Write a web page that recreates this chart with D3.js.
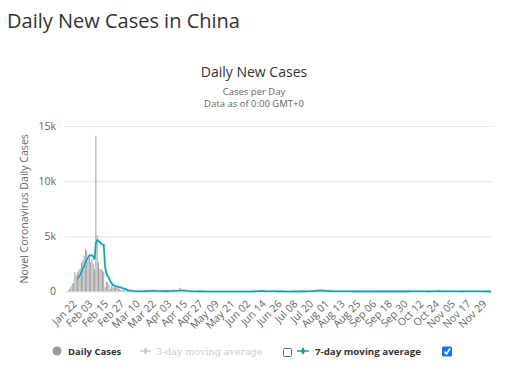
<!DOCTYPE html>
<html lang="en">
<head>
<meta charset="utf-8">
<title>Daily New Cases in China</title>
<script src="https://cdn.jsdelivr.net/npm/d3@7"></script>
<style>
  body { margin: 0; background: #fff; }
  svg { font-family: "Open Sans", sans-serif; }
</style>
</head>
<body>
<script>

// first category, one point per day after it
var firstDay = new Date(2020, 0, 22);

// daily new cases, one small array per month
var casesJan = [0, 95, 259, 444, 688, 769, 1771, 1459, 1737, 1981];
var casesFeb = [2099, 2589, 2825, 3233, 3886, 3694, 3143, 3385, 2652, 2973, 2467, 2015, 14108, 5090, 2641, 2008, 2048, 1888, 1749, 391, 889, 823, 648, 214, 508, 406, 433, 327, 427];
var casesMar = [573, 202, 125, 119, 139, 143, 99, 44, 40, 19, 24, 15, 8, 11, 20, 16, 21, 13, 34, 39, 41, 46, 39, 78, 47, 67, 55, 54, 45, 31, 48];
var casesApr = [36, 35, 31, 19, 30, 39, 32, 62, 63, 42, 46, 99, 108, 89, 46, 26, 352, 27, 16, 12, 11, 30, 10, 12, 11, 12, 3, 22, 22, 4];
var casesMay = [12, 1, 2, 3, 1, 2, 2, 1, 1, 17, 1, 7, 3, 7, 4, 5, 7, 6, 2, 5, 3, 2, 0, 3, 7, 11, 1, 2, 4, 2, 4];
var casesJun = [10, 5, 7, 5, 5, 2, 4, 8, 3, 11, 11, 8, 57, 49, 40, 44, 28, 31, 32, 26, 29, 22, 22, 19, 19, 11, 17, 12, 19, 3];
var casesJul = [3, 5, 3, 7, 8, 7, 8, 5, 2, 7, 6, 8, 9, 4, 6, 10, 11, 22, 16, 11, 14, 22, 22, 21, 46, 61, 68, 64, 101, 105, 127];
var casesAug = [45, 49, 43, 36, 27, 37, 32, 23, 36, 44, 19, 22, 25, 19, 22, 22, 16, 16, 17, 22, 22, 20, 16, 12, 15, 14, 9, 9, 9, 21, 10];
var casesSep = [8, 5, 11, 10, 10, 10, 10, 6, 10, 7, 11, 10, 8, 10, 7, 7, 32, 14, 10, 15, 12, 6, 11, 10, 8, 9, 12, 21, 9, 12];
var casesOct = [20, 11, 12, 12, 14, 22, 18, 11, 13, 21, 12, 14, 28, 13, 13, 24, 18, 13, 13, 14, 15, 12, 19, 8, 20, 42, 24, 23, 49, 29, 25];
var casesNov = [24, 10, 17, 14, 18, 12, 27, 16, 19, 17, 25, 17, 10, 16, 11, 11, 15, 15, 19, 26, 21, 16, 21, 13, 21, 22, 22, 20, 20, 15];
var casesDec = [17, 12, 13, 11, 16, 20, 13, 10, 17, 11];

// 7-day moving average
var avgJan = [null, null, null, null, null, null, null, null, 1150, 1320];
var avgFeb = [1501, 1772, 2066, 2275, 2621, 2901, 3067, 3251, 3260, 3281, 3171, 2904, 4392, 4670, 4564, 4472, 4340, 4257, 4219, 2259, 1659, 1399, 1205, 943, 746, 554, 560, 480, 423];
var avgMar = [413, 411, 356, 315, 273, 247, 200, 124, 101, 86, 69, 50, 37, 24, 20, 16, 15, 16, 19, 26, 30, 35, 38, 47, 49, 54, 55, 55, 55, 50, 49];
var avgApr = [44, 42, 40, 34, 33, 33, 32, 36, 40, 41, 45, 55, 66, 73, 71, 65, 109, 105, 90, 80, 75, 69, 66, 20, 20, 20, 14, 16, 16, 13];
var avgMay = [14, 11, 9, 9, 6, 6, 3, 2, 2, 4, 4, 4, 4, 5, 6, 6, 5, 5, 5, 5, 5, 4, 4, 3, 4, 4, 4, 4, 4, 4, 4];
var avgJun = [5, 5, 6, 6, 5, 5, 5, 5, 5, 5, 6, 7, 14, 20, 25, 31, 38, 42, 38, 36, 31, 29, 28, 26, 25, 23, 20, 18, 17, 15];
var avgJul = [13, 11, 10, 8, 7, 5, 6, 6, 6, 6, 6, 6, 7, 7, 6, 7, 8, 10, 11, 12, 13, 15, 17, 18, 22, 29, 36, 41, 55, 67, 82];
var avgAug = [82, 80, 78, 75, 69, 57, 40, 35, 34, 33, 31, 28, 29, 27, 24, 22, 20, 20, 19, 19, 19, 19, 18, 17, 16, 16, 15, 13, 12, 13, 12];
var avgSep = [11, 11, 11, 11, 10, 9, 9, 9, 9, 9, 9, 9, 9, 9, 9, 9, 12, 12, 13, 13, 14, 14, 11, 11, 11, 10, 10, 11, 12, 11];
var avgOct = [13, 13, 14, 14, 14, 15, 16, 14, 15, 16, 16, 16, 17, 16, 16, 18, 18, 17, 16, 16, 16, 15, 15, 13, 14, 18, 19, 21, 26, 29, 30];
var avgNov = [31, 29, 24, 23, 19, 15, 17, 16, 17, 17, 19, 18, 18, 17, 16, 15, 15, 15, 15, 16, 18, 19, 19, 19, 19, 20, 21, 21, 20, 19];
var avgDec = [18, 17, 16, 15, 15, 15, 14, 14, 14, 14];

var yTickValues = [0, 5000, 10000, 15000];
var xLabelEvery = 12;

var daily = [].concat(casesJan, casesFeb, casesMar, casesApr, casesMay, casesJun,
                      casesJul, casesAug, casesSep, casesOct, casesNov, casesDec);
var avg7 = [].concat(avgJan, avgFeb, avgMar, avgApr, avgMay, avgJun,
                     avgJul, avgAug, avgSep, avgOct, avgNov, avgDec);

var fmtDay = d3.timeFormat("%b %d");
var categories = daily.map(function(d, i) {
  return fmtDay(d3.timeDay.offset(firstDay, i));
});

var width = 505, height = 379;
var plotLeft = 65, plotRight = 492, plotTop = 126, plotBottom = 291.5;

var svg = d3.select("body").append("svg")
  .attr("width", width)
  .attr("height", height);

// headings
svg.append("text")
  .attr("x", 7).attr("y", 28)
  .attr("font-size", 20).attr("fill", "#333")
  .text("Daily New Cases in China");

svg.append("text")
  .attr("x", 254).attr("y", 76.5)
  .attr("text-anchor", "middle")
  .attr("font-size", 14).attr("fill", "#333")
  .text("Daily New Cases");

svg.append("text")
  .attr("x", 254).attr("y", 95)
  .attr("text-anchor", "middle")
  .attr("font-size", 9.5).attr("fill", "#666")
  .text("Cases per Day");

svg.append("text")
  .attr("x", 254).attr("y", 106.5)
  .attr("text-anchor", "middle")
  .attr("font-size", 9.5).attr("fill", "#666")
  .text("Data as of 0:00 GMT+0");

var x = d3.scaleLinear().domain([0, daily.length - 1]).range([67, 491]);
var y = d3.scaleLinear().domain([0, 15000]).range([plotBottom, plotTop]);

// grid and y labels
var yAxis = svg.append("g")
  .attr("transform", "translate(" + plotLeft + ",0)")
  .call(d3.axisLeft(y)
    .tickValues(yTickValues)
    .tickSize(-(plotRight - plotLeft))
    .tickPadding(9)
    .tickFormat(function(d) { return d === 0 ? "0" : (d / 1000) + "k"; }));
yAxis.select(".domain").remove();
yAxis.selectAll(".tick line").attr("stroke", "#e6e6e6");
yAxis.selectAll(".tick text")
  .attr("fill", "#666")
  .attr("font-size", 10.5)
  .attr("font-family", "Open Sans, sans-serif");

svg.append("text")
  .attr("transform", "translate(27.5," + ((plotTop + plotBottom) / 2) + ") rotate(-90)")
  .attr("text-anchor", "middle")
  .attr("font-size", 10.6).attr("fill", "#666")
  .text("Novel Coronavirus Daily Cases");

// x axis labels
var xAxis = svg.append("g")
  .attr("transform", "translate(0," + plotBottom + ")")
  .call(d3.axisBottom(x)
    .tickValues(d3.range(0, daily.length, xLabelEvery))
    .tickSize(0)
    .tickFormat(function(i) { return categories[i]; }));
xAxis.select(".domain").remove();
xAxis.selectAll(".tick text")
  .attr("fill", "#666")
  .attr("font-size", 10.5)
  .attr("font-family", "Open Sans, sans-serif")
  .attr("text-anchor", "end")
  .attr("dy", 0)
  .attr("transform", "translate(8,11) rotate(-45)");

// daily bars
svg.append("g")
  .selectAll("rect")
  .data(daily)
  .enter()
  .append("rect")
  .attr("x", function(d, i) { return x(i) - 0.45; })
  .attr("width", 0.9)
  .attr("y", function(d) { return y(d); })
  .attr("height", function(d) { return plotBottom - y(d); })
  .attr("fill", "#999");

// 7-day average
var line = d3.line()
  .defined(function(d) { return d !== null; })
  .x(function(d, i) { return x(i); })
  .y(function(d) { return y(d); });

svg.append("path")
  .datum(avg7)
  .attr("d", line)
  .attr("fill", "none")
  .attr("stroke", "#a8e6ee")
  .attr("stroke-width", 3.5)
  .attr("stroke-opacity", 0.45);

svg.append("path")
  .datum(avg7)
  .attr("d", line)
  .attr("fill", "none")
  .attr("stroke", "#1b9bb0")
  .attr("stroke-width", 1.6);

// legend
var legend = svg.append("g").attr("font-size", 9.5).attr("font-weight", "bold");

legend.append("circle")
  .attr("cx", 57).attr("cy", 351).attr("r", 4.5)
  .attr("fill", "#999");
legend.append("text")
  .attr("x", 68).attr("y", 354.5).attr("fill", "#333")
  .text("Daily Cases");

legend.append("line")
  .attr("x1", 140).attr("x2", 151).attr("y1", 351).attr("y2", 351)
  .attr("stroke", "#ccc").attr("stroke-width", 1.5);
legend.append("path")
  .attr("d", d3.symbol(d3.symbolDiamond, 18)())
  .attr("transform", "translate(145.5,351)")
  .attr("fill", "#ccc");
legend.append("text")
  .attr("x", 156).attr("y", 354.5).attr("fill", "#ccc")
  .attr("font-family", "DejaVu Serif, serif").attr("font-weight", "normal")
  .text("3-day moving average");

legend.append("rect")
  .attr("x", 283.5).attr("y", 348.5).attr("width", 8).attr("height", 8)
  .attr("rx", 1)
  .attr("fill", "#fff").attr("stroke", "#666");

legend.append("line")
  .attr("x1", 297).attr("x2", 309).attr("y1", 351).attr("y2", 351)
  .attr("stroke", "#1b9bb0").attr("stroke-width", 1.5);
legend.append("path")
  .attr("d", d3.symbol(d3.symbolDiamond, 18)())
  .attr("transform", "translate(303,351)")
  .attr("fill", "#1b9bb0");
legend.append("text")
  .attr("x", 315).attr("y", 354.5).attr("fill", "#333")
  .attr("textLength", 106).attr("lengthAdjust", "spacingAndGlyphs")
  .text("7-day moving average");

legend.append("rect")
  .attr("x", 442).attr("y", 346.5).attr("width", 10).attr("height", 10)
  .attr("rx", 1.5)
  .attr("fill", "#1a73e8");
legend.append("path")
  .attr("d", "M444.5,351.5 L446.5,354 L450,348.5")
  .attr("fill", "none").attr("stroke", "#fff").attr("stroke-width", 1.6);

</script>
</body>
</html>
